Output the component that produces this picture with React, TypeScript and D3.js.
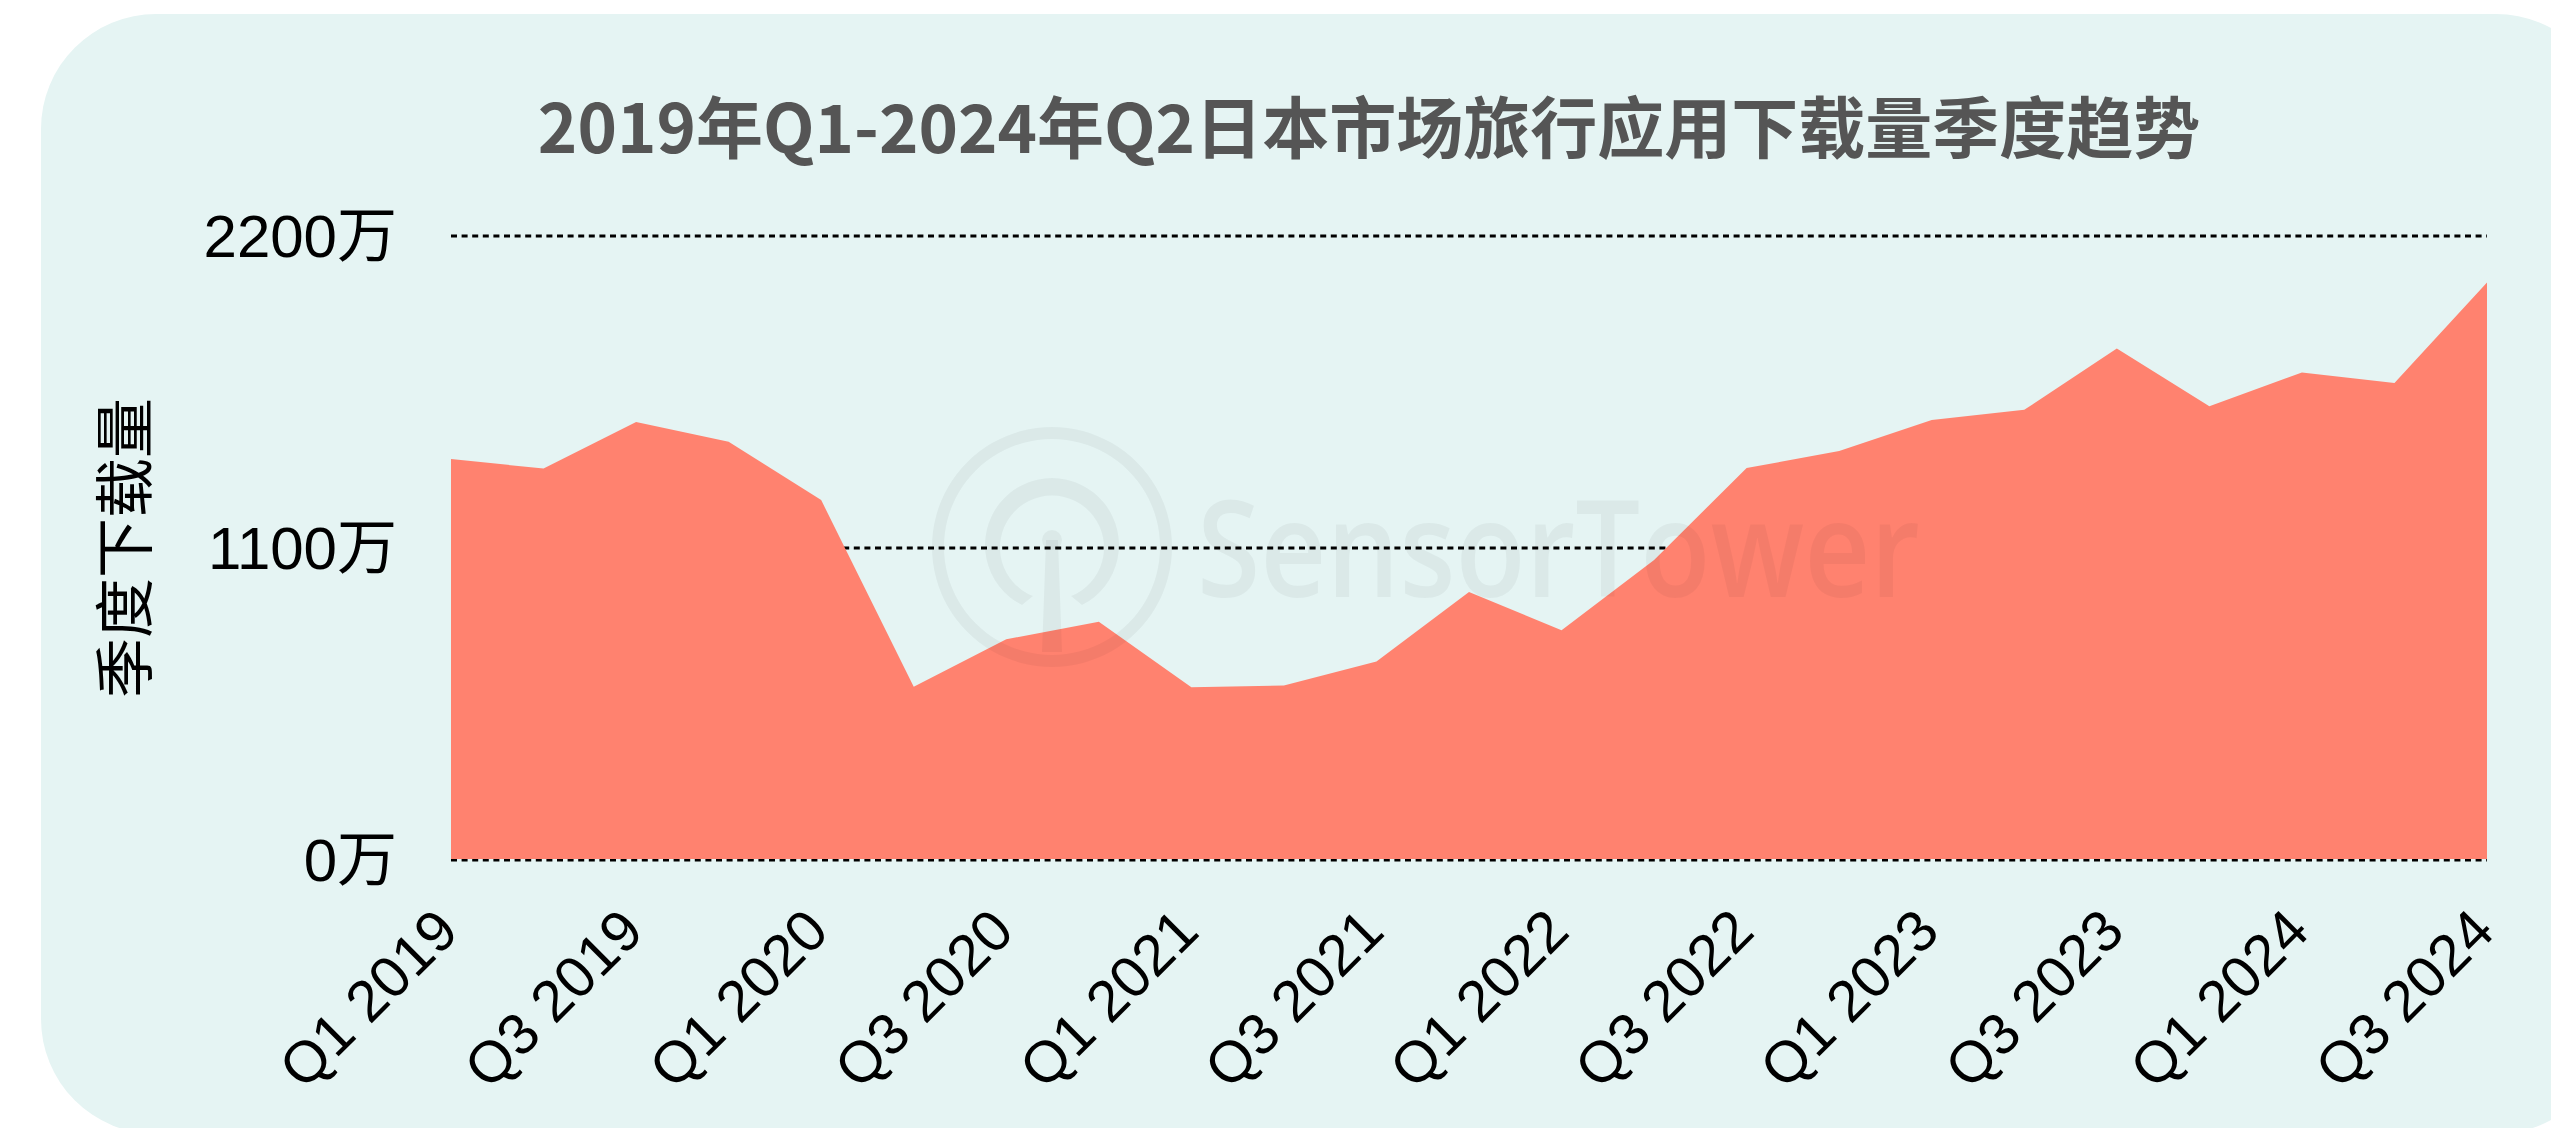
import React from 'react';
import { scaleLinear, scalePoint, area } from 'd3';

const title = '2019年Q1-2024年Q2日本市场旅行应用下载量季度趋势';
const yAxisTitle = '季度下载量';

const quarters = [
  'Q1 2019', 'Q2 2019', 'Q3 2019', 'Q4 2019',
  'Q1 2020', 'Q2 2020', 'Q3 2020', 'Q4 2020',
  'Q1 2021', 'Q2 2021', 'Q3 2021', 'Q4 2021',
  'Q1 2022', 'Q2 2022', 'Q3 2022', 'Q4 2022',
  'Q1 2023', 'Q2 2023', 'Q3 2023', 'Q4 2023',
  'Q1 2024', 'Q2 2024', 'Q3 2024'
];

// quarterly downloads, in 万
const downloads = [
  1414, 1380, 1544, 1475,
  1269, 611, 778, 840,
  609, 615, 700, 945,
  810, 1058, 1382, 1442,
  1551, 1587, 1803, 1600,
  1719, 1682, 2036
];

const yTicks = [0, 1100, 2200];

const W = 2551;
const H = 1128;
const plot = { left: 451, right: 2487, top: 236, bottom: 860 };

export default function App() {
  const x = scalePoint<string>()
    .domain(quarters)
    .range([plot.left, plot.right]);

  const y = scaleLinear()
    .domain([0, 2200])
    .range([plot.bottom, plot.top]);

  const areaPath = area<number>()
    .x((_, i) => x(quarters[i]) as number)
    .y0(y(0) - 1)
    .y1(d => y(d))(downloads) as string;

  const labelFont = '"Liberation Sans", Arial, "Noto Sans CJK SC", sans-serif';

  return (
    <div style={{ position: 'absolute', left: 0, top: 0 }}>
      <svg width={W} height={H} style={{ display: 'block' }}>
        <rect x={0} y={0} width={W} height={H} fill="#ffffff" />
        <rect x={41} y={14} width={2570} height={1120} rx={115} ry={115} fill="#e5f4f3" />

        {/* title */}
        <text
          x={1369}
          y={153}
          textAnchor="middle"
          fontFamily='"Noto Sans CJK SC", sans-serif'
          fontWeight={700}
          fontSize={67}
          fill="#555555"
        >
          {title}
        </text>

        {/* gridlines */}
        {yTicks.map(t => (
          <line
            key={'g' + t}
            x1={plot.left}
            x2={plot.right}
            y1={y(t)}
            y2={y(t)}
            stroke="#000000"
            strokeWidth={3}
            strokeDasharray="6 4.6"
          />
        ))}

        {/* area */}
        <path d={areaPath} fill="#ff826f" />

        {/* watermark */}
        <g fill="#000000" fillOpacity={0.045} stroke="none">
          <path
            fillRule="evenodd"
            d="M1052,427 a120,120 0 1,0 0.01,0 Z M1052,439 a108,108 0 1,0 0.01,0 Z"
          />
          <path
            d="M1022,605 A67,67 0 1,1 1082,605 L1071,596 A52,52 0 1,0 1033,596 Z"
          />
          <circle cx={1052} cy={540} r={10} />
          <path d="M1046,540 L1058,540 L1062,652 L1042,652 Z" />
          <text
            x={1197}
            y={597}
            fontFamily='"Open Sans", sans-serif'
            fontWeight={600}
            fontSize={134}
            textLength={723}
            lengthAdjust="spacingAndGlyphs"
          >
            SensorTower
          </text>
        </g>

        {/* y tick labels */}
        {yTicks.map(t => (
          <text
            key={'t' + t}
            x={397}
            y={y(t)}
            dy="0.35em"
            textAnchor="end"
            fontFamily={labelFont}
            fontSize={60}
            fill="#000000"
          >
            {t + '万'}
          </text>
        ))}

        {/* y axis title */}
        <text
          transform={`translate(126, ${(plot.top + plot.bottom) / 2}) rotate(-90)`}
          textAnchor="middle"
          dy="0.35em"
          fontFamily='"Noto Sans CJK SC", sans-serif'
          fontSize={60}
          fill="#000000"
        >
          {yAxisTitle}
        </text>

        {/* x tick labels, every other quarter */}
        {quarters.map((q, i) =>
          i % 2 === 0 ? (
            <text
              key={q}
              transform={`translate(${(x(q) as number) + 10}, 934) rotate(-45)`}
              textAnchor="end"
              fontFamily={labelFont}
              fontSize={58}
              fill="#000000"
            >
              {q}
            </text>
          ) : null
        )}
      </svg>
    </div>
  );
}
